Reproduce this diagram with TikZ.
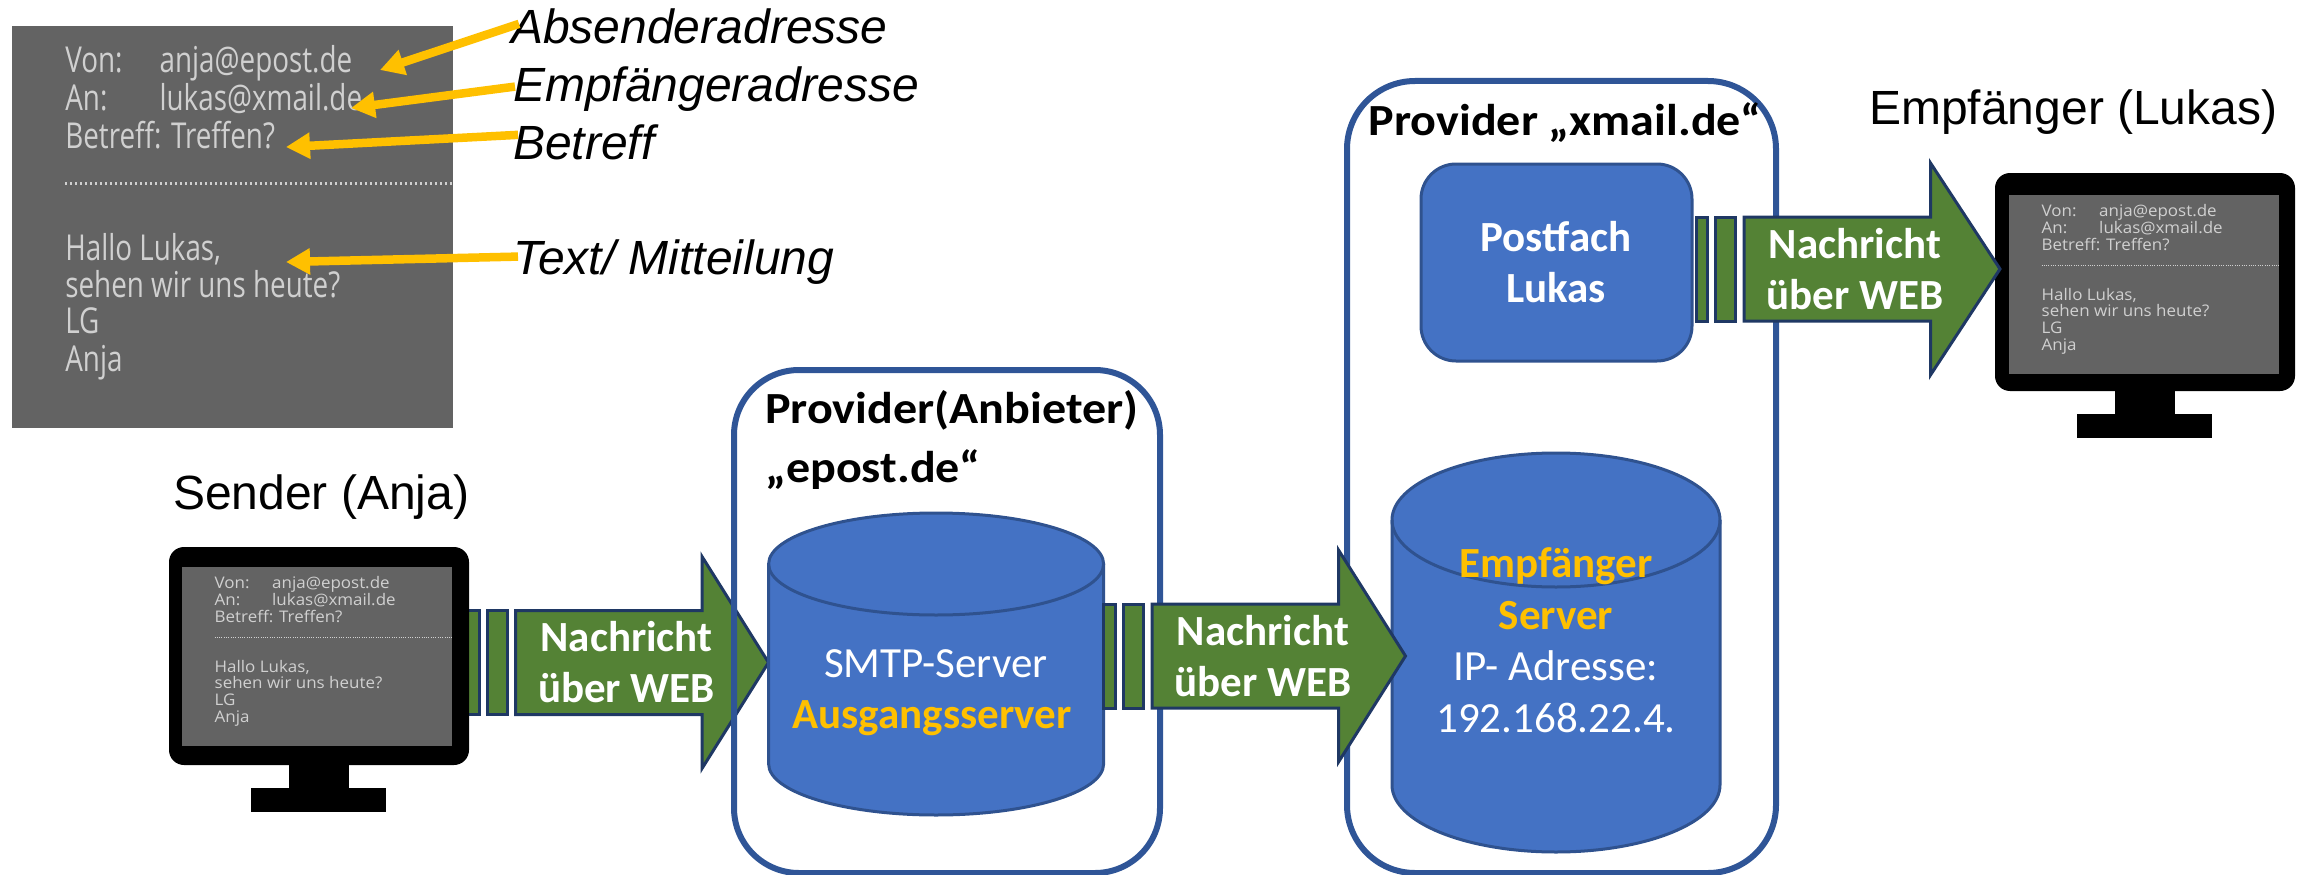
\documentclass[tikz,border=0pt]{standalone}
\usepackage{fontspec}
\setmainfont{Liberation Sans}
\newfontfamily\calfont{Carlito}
\newfontfamily\calwide[FakeStretch=1.08]{Carlito}
\newfontfamily\mailfont[FakeStretch=1.06]{Open Sans}
\usetikzlibrary{arrows.meta}
\definecolor{orangeY}{HTML}{FFC000}
\definecolor{blueF}{HTML}{4472C4}
\definecolor{blueS}{HTML}{2F528F}
\definecolor{boxS}{HTML}{2F5597}
\definecolor{greenF}{HTML}{548235}
\definecolor{greenS}{HTML}{1F3864}
\definecolor{panel}{HTML}{636363}
\definecolor{mailtxt}{HTML}{D0D0D0}
\tikzset{
  lab/.style={anchor=base west,inner sep=0pt,font=\fontsize{48}{48}\selectfont},
  ilab/.style={lab,font=\fontsize{48}{48}\selectfont\itshape},
  ptr/.style={draw=orangeY,line width=8.5pt,-{Triangle[length=24pt,width=25pt,fill=orangeY]}},
  calreg/.style={anchor=base,inner sep=0pt,text=white,font=\fontsize{43}{43}\calfont},
  calbold/.style={anchor=base,inner sep=0pt,text=white,font=\fontsize{43}{43}\calfont\bfseries},
  provtxt/.style={anchor=base west,inner sep=0pt,text=black,font=\fontsize{44.5}{44.5}\calwide\bfseries},
  mail/.style={anchor=base west,inner sep=0pt,text=mailtxt,font=\fontsize{16}{16}\mailfont},
  webarrow/.style={fill=greenF,draw=greenS,line width=3pt,line join=miter},
  provider/.style={draw=boxS,line width=6pt,inner sep=0pt,rectangle},
  cyl/.style={fill=blueF,draw=blueS,line width=3pt},
  maildots/.style={mailtxt,line width=1.4pt,dash pattern=on 1pt off 1.3pt},
  bigdots/.style={mailtxt,line width=3pt,dash pattern=on 2pt off 3pt},
}
% #1 prefix, #2 x, #3 y, #4 xscale, #5 yscale, #6 dotted-line style
\newcommand\mailtext[6]{%
  \begin{scope}[shift={(#2,#3)},xscale=#4,yscale=#5,transform shape]
    \node[mail] (#1a) at (0,0) {Von:};
    \node[mail] (#1b) at (57.5,0) {anja@epost.de};
    \node[mail] (#1c) at (0,17) {An:};
    \node[mail] (#1d) at (57.5,17) {lukas@xmail.de};
    \node[mail] (#1e) at (0,34) {Betreff: Treffen?};
    \draw[#6] (0,49.5) -- (237,49.5);
    \node[mail] (#1f) at (0,84) {Hallo Lukas,};
    \node[mail] (#1g) at (0,100.5) {sehen wir uns heute?};
    \node[mail] (#1h) at (0,117) {LG};
    \node[mail] (#1i) at (0,134) {Anja};
  \end{scope}}
% #1 name, #2 body x, #3 body y, #4 screen x, #5 screen y
\newcommand\monitor[5]{%
  \fill[black] ({#2+120},{#3+210}) rectangle ({#2+180},{#3+241});
  \fill[black] ({#2+82},{#3+241}) rectangle ({#2+217},{#3+265});
  \fill[black,rounded corners=15pt] (#2,#3) rectangle ({#2+300},{#3+218});
  \fill[panel] (#4,#5) rectangle ({#4+270},{#5+179});
  \mailtext{#1}{#4+32.5}{#5+21}{1}{1}{maildots}}
% #1 name, #2 stripe left, #3 stripe right, #4 main start, #5 tip, #6 mid y
\newcommand\webarrow[6]{%
  \draw[webarrow] (#2,{#6-52}) rectangle (#3,{#6+52});
  \draw[webarrow] ({#4-28.5},{#6-52}) rectangle ({#4-8.5},{#6+52});
  \draw[webarrow] (#4,{#6-52}) -- ({#4+186.5},{#6-52}) -- ({#4+186.5},{#6-106}) -- (#5,#6)
     -- ({#4+186.5},{#6+106}) -- ({#4+186.5},{#6+52}) -- (#4,{#6+52}) -- cycle;
  \node[calbold] (#1a) at ({#4+111},{#6-11}) {Nachricht};
  \node[calbold] (#1b) at ({#4+111},{#6+40}) {über WEB};}
% #1 left, #2 right, #3 top, #4 bottom, #5 ry
\newcommand\cylinder[5]{%
  \draw[cyl] (#1,{#3+#5}) -- (#1,{#4-#5})
     arc[start angle=180,end angle=0,x radius={(#2-#1)/2},y radius=#5]
     -- (#2,{#3+#5})
     arc[start angle=0,end angle=-180,x radius={(#2-#1)/2},y radius=#5] -- cycle;
  \draw[blueS,line width=3pt] (#1,{#3+#5})
     arc[start angle=180,end angle=0,x radius={(#2-#1)/2},y radius=#5];}
\begin{document}
\begin{tikzpicture}[x=1pt,y=-1pt]
\useasboundingbox (0,0) rectangle (2303,875);
% mail panel
\fill[panel] (12,26) rectangle (453,428);
\mailtext{p}{65}{73}{1.64}{2.23}{bigdots}
% labels
\node[ilab] (l1) at (511,44) {Absenderadresse};
\node[ilab] (l2) at (513,102) {Empfängeradresse};
\node[ilab] (l3) at (513,159) {Betreff};
\node[ilab] (l4) at (513,274) {Text/ Mitteilung};
\coordinate (t1) at (380,70);
\coordinate (t2) at (351,108);
\coordinate (t3) at (286,147);
\coordinate (t4) at (286,262);
\draw[ptr] ([xshift=8pt,yshift=3pt]l1.west) -- (t1);
\draw[ptr] ([xshift=2pt,yshift=3pt]l2.west) -- (t2);
\draw[ptr] ([xshift=5pt,yshift=7pt]l3.west) -- (t3);
\draw[ptr] ([xshift=5pt,yshift=5pt]l4.west) -- (t4);
% sender
\node[lab] (sender) at (173,509) {Sender (Anja)};
\webarrow{wa}{460}{479}{515.5}{768.5}{662.5}
\monitor{m}{169}{547}{182}{567}
% provider 1
\node[provider,rounded corners=65pt,minimum width=426pt,minimum height=503pt] (prov1) at (947,621.5) {};
\node[provtxt] (pa) at (765,423) {Provider(Anbieter)};
\node[provtxt] (pb) at (765,482) {„epost.de“};
\cylinder{768.6}{1103.6}{513}{815}{51}
\node[calreg] (smtp) at (936,677) {SMTP-Server};
\node[calbold,text=orangeY] (aus) at (932,728) {Ausgangsserver};
% provider 2
\node[provider,rounded corners=68pt,minimum width=429pt,minimum height=792pt] (prov2) at (1561.5,477) {};
\node[provtxt] (pc) at (1368.5,135) {Provider „xmail.de“};
\node[draw=blueS,fill=blueF,line width=3pt,rounded corners=35pt,minimum width=271pt,minimum height=197pt,inner sep=0pt] (post) at (1556.5,262.5) {};
\node[calbold] (pf) at (1556,251) {Postfach};
\node[calbold] (pl) at (1556,302) {Lukas};
\cylinder{1392}{1720}{453}{852}{67}
\node[calbold,text=orangeY] (emp) at (1556,577) {Empfänger};
\node[calbold,text=orangeY] (srv) at (1556,629) {Server};
\node[calreg] (ip) at (1556,680) {IP- Adresse:};
\node[calreg] (num) at (1556,732) {192.168.22.4.};
% arrows over boxes
\webarrow{wb}{1103}{1115}{1152}{1405.5}{656}
\node[lab] (empf) at (1869,124) {Empfänger (Lukas)};
\monitor{n}{1995}{173}{2009}{195}
\webarrow{wc}{1696}{1707}{1744}{2000}{269}
\end{tikzpicture}
\end{document}
